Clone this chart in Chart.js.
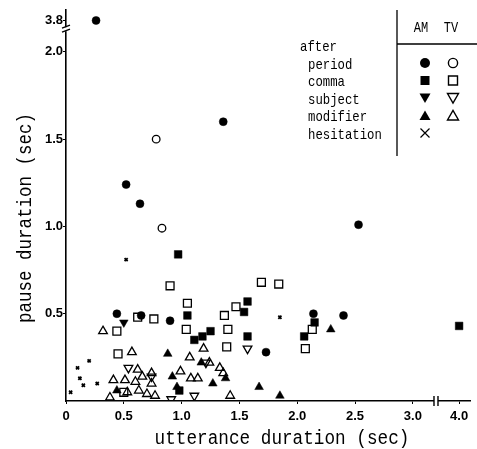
<!DOCTYPE html>
<html>
<head>
<meta charset="utf-8">
<script src="https://cdn.jsdelivr.net/npm/chart.js@4/dist/chart.umd.min.js"></script>
<style>
  html, body { margin: 0; padding: 0; background: #fff; }
  #wrap { position: relative; width: 477px; height: 449px; }
  canvas { display: block; }
</style>
</head>
<body>
<div id="wrap"><canvas id="c" width="477" height="449"></canvas></div>
<script>
// ---- tick labels ----
const xTicks = [0, 0.5, 1.0, 1.5, 2.0, 2.5, 3.0, 4.0];
const xTickLabels = ['0', '0.5', '1.0', '1.5', '2.0', '2.5', '3.0', '4.0'];
const yTicks = [0.5, 1.0, 1.5, 2.0, 3.8];
const yTickLabels = ['0.5', '1.0', '1.5', '2.0', '3.8'];

// ---- series: [utterance duration (sec), pause duration (sec)] ----
const amPeriod = [[0.26,3.8],[1.36,1.60],[0.52,1.24],[0.64,1.13],[2.53,1.01],[0.44,0.50],[0.65,0.49],[0.90,0.46],[1.73,0.28],[2.40,0.49],[2.14,0.50]];
const tvPeriod = [[0.78,1.50],[0.83,0.99]];
const amComma = [[0.97,0.84],[1.05,0.49],[1.25,0.40],[1.18,0.37],[1.11,0.35],[1.57,0.57],[1.54,0.51],[1.57,0.37],[2.06,0.37],[2.15,0.45],[4.0,0.43],[0.98,0.06]];
const tvComma = [[0.90,0.66],[1.05,0.56],[1.47,0.54],[1.69,0.68],[1.84,0.67],[0.62,0.48],[0.76,0.47],[0.44,0.40],[0.45,0.27],[1.04,0.41],[1.37,0.49],[1.40,0.41],[1.39,0.31],[2.13,0.41],[2.07,0.30],[0.50,0.05]];
const amSubject = [[0.50,0.45]];
const tvSubject = [[0.54,0.19],[0.74,0.14],[1.21,0.22],[1.57,0.30],[1.11,0.03],[0.91,0.01]];
const amModifier = [[0.88,0.27],[0.92,0.14],[0.44,0.06],[0.96,0.08],[1.17,0.22],[1.38,0.13],[1.27,0.10],[1.67,0.08],[1.85,0.03],[2.29,0.41]];
const tvModifier = [[0.32,0.40],[0.57,0.28],[1.07,0.25],[1.19,0.30],[0.99,0.17],[1.08,0.13],[1.14,0.13],[1.33,0.19],[1.24,0.22],[1.42,0.03],[0.62,0.18],[0.41,0.12],[0.51,0.12],[0.60,0.11],[0.66,0.14],[0.38,0.02],[0.63,0.06],[0.70,0.04],[0.77,0.03],[0.53,0.05],[0.74,0.16],[0.74,0.10],[1.36,0.16]];
const hesitation = [[0.52,0.81],[0.20,0.23],[0.10,0.19],[0.12,0.13],[0.15,0.09],[0.27,0.10],[0.04,0.05],[1.85,0.48]];

// legend text
const legendHead = ['AM', 'TV'];
const legendTitle = 'after';
const legendRows = ['period', 'comma', 'subject', 'modifier', 'hesitation'];
const xTitle = 'utterance duration (sec)';
const yTitle = 'pause duration (sec)';

// ---- broken-axis transforms ----
function brkX(v) { return v <= 3.0 ? v : 3.4 + (v - 4.0) * 0.4; }
function brkY(v) { return v <= 2.0 ? v : 2.18 + (v - 3.8) * 0.2; }
const pts = arr => arr.map(([x, y]) => ({ x: brkX(x), y: brkY(y) }));

function ds(label, arr, style, filled, radius, rot) {
  return {
    label, data: pts(arr), pointStyle: style, pointRadius: radius, pointHoverRadius: radius,
    pointRotation: rot || 0, borderColor: '#000', borderWidth: filled ? 0.5 : 1.3,
    backgroundColor: filled ? '#000' : 'rgba(0,0,0,0)', showLine: false
  };
}

const datasets = [
  ds('AM period', amPeriod, 'circle', true, 4),
  ds('TV period', tvPeriod, 'circle', false, 3.8),
  ds('AM comma', amComma, 'rect', true, 5.4),
  ds('TV comma', tvComma, 'rect', false, 5.6),
  ds('AM subject', amSubject, 'triangle', true, 5, 180),
  ds('TV subject', tvSubject, 'triangle', false, 5, 180),
  ds('AM modifier', amModifier, 'triangle', true, 5),
  ds('TV modifier', tvModifier, 'triangle', false, 5),
  Object.assign(ds('hesitation', hesitation, 'crossRot', false, 2.2), { borderWidth: 1.8 })
];

function drawSym(ctx, type, filled, x, y) {
  ctx.save();
  ctx.fillStyle = '#000'; ctx.strokeStyle = '#000'; ctx.lineWidth = 1.4;
  ctx.beginPath();
  if (type === 'circle') { ctx.arc(x, y, filled ? 5 : 4.6, 0, Math.PI * 2); }
  else if (type === 'square') { ctx.rect(x - 4.5, y - 4.5, 9, 9); }
  else if (type === 'down') { ctx.moveTo(x - 5.5, y - 4.5); ctx.lineTo(x + 5.5, y - 4.5); ctx.lineTo(x, y + 5); ctx.closePath(); }
  else if (type === 'up') { ctx.moveTo(x - 5.5, y + 4.5); ctx.lineTo(x + 5.5, y + 4.5); ctx.lineTo(x, y - 5); ctx.closePath(); }
  else if (type === 'x') { ctx.lineWidth = 1.2; ctx.moveTo(x - 4.5, y - 4.5); ctx.lineTo(x + 4.5, y + 4.5); ctx.moveTo(x + 4.5, y - 4.5); ctx.lineTo(x - 4.5, y + 4.5); ctx.stroke(); ctx.restore(); return; }
  if (filled) ctx.fill(); else ctx.stroke();
  ctx.restore();
}

function condText(ctx, text, x, y, size, sx, align) {
  ctx.save();
  ctx.font = size + 'px "Liberation Mono", "DejaVu Sans Mono", monospace';
  ctx.textAlign = align || 'left';
  ctx.translate(x, y);
  ctx.scale(sx, 1);
  ctx.fillText(text, 0, 0);
  ctx.restore();
}

const decor = {
  id: 'decor',
  afterDraw(chart) {
    const ctx = chart.ctx;
    const xs = chart.scales.x, ys = chart.scales.y;
    ctx.save();
    ctx.fillStyle = '#000'; ctx.strokeStyle = '#000';
    // axis break on x
    const bx = xs.getPixelForValue(3.2), by0 = ys.bottom;
    ctx.fillStyle = '#fff'; ctx.fillRect(bx - 2, by0 - 2, 4, 4);
    ctx.fillStyle = '#000';
    ctx.lineWidth = 1.4;
    ctx.beginPath();
    ctx.moveTo(bx - 2, by0 - 5); ctx.lineTo(bx - 2, by0 + 5);
    ctx.moveTo(bx + 2, by0 - 5); ctx.lineTo(bx + 2, by0 + 5);
    ctx.stroke();
    // axis break on y
    const byy = ys.getPixelForValue(2.13), ax = xs.left;
    ctx.fillStyle = '#fff'; ctx.fillRect(ax - 2, byy - 2, 4, 4);
    ctx.fillStyle = '#000';
    ctx.beginPath();
    ctx.moveTo(ax - 4, byy - 1); ctx.lineTo(ax + 4, byy - 4);
    ctx.moveTo(ax - 4, byy + 3); ctx.lineTo(ax + 4, byy);
    ctx.stroke();

    // legend box
    ctx.lineWidth = 1.3;
    ctx.beginPath();
    ctx.moveTo(397, 10); ctx.lineTo(397, 156);
    ctx.moveTo(397, 44); ctx.lineTo(477, 44);
    ctx.stroke();
    ctx.textBaseline = 'middle';
    condText(ctx, legendHead[0], 421, 28, 15, 0.8, 'center');
    condText(ctx, legendHead[1], 451, 28, 15, 0.8, 'center');
    condText(ctx, legendTitle, 300, 47, 15, 0.82, 'left');
    const rowY = [64, 81.5, 99, 116.5, 134];
    const symAM = [['circle', true], ['square', true], ['down', true], ['up', true], ['x', false]];
    const symTV = [['circle', false], ['square', false], ['down', false], ['up', false], null];
    legendRows.forEach((t, i) => {
      condText(ctx, t, 308, rowY[i] + 1, 15, 0.82, 'left');
      drawSym(ctx, symAM[i][0], symAM[i][1], 425, rowY[i] - 1);
      if (symTV[i]) drawSym(ctx, symTV[i][0], symTV[i][1], 453, rowY[i] - 1);
    });

    // axis titles
    ctx.textBaseline = 'alphabetic';
    condText(ctx, xTitle, 282, 444, 20, 0.885, 'center');
    ctx.save();
    ctx.translate(31, 218);
    ctx.rotate(-Math.PI / 2);
    condText(ctx, yTitle, 0, 0, 20, 0.875, 'center');
    ctx.restore();
    ctx.restore();
  }
};

const tickFont = { family: '"Liberation Sans", Arial, sans-serif', size: 13, weight: 'bold' };

new Chart(document.getElementById('c'), {
  type: 'scatter',
  data: { datasets },
  options: {
    responsive: false,
    devicePixelRatio: 1,
    animation: false,
    layout: { padding: { top: 10, right: 0, left: 0, bottom: 0 } },
    plugins: { legend: { display: false }, tooltip: { enabled: false } },
    scales: {
      x: {
        type: 'linear', min: 0, max: 3.495,
        afterBuildTicks: s => { s.ticks = xTicks.map(v => ({ value: brkX(v) })); },
        afterFit: s => { s.height = 48; },
        ticks: { autoSkip: false, maxRotation: 0, padding: 5, color: '#000', font: tickFont,
                 callback: (v, i) => xTickLabels[i] },
        grid: { drawOnChartArea: false, drawTicks: true, tickLength: 3, color: '#000', lineWidth: 1 },
        border: { display: true, color: '#000', width: 1.6 }
      },
      y: {
        type: 'linear', min: 0, max: 2.24,
        afterBuildTicks: s => { s.ticks = yTicks.map(v => ({ value: brkY(v) })); },
        afterFit: s => { s.width = 66; },
        ticks: { autoSkip: false, padding: 0, color: '#000', font: tickFont,
                 callback: (v, i) => yTickLabels[i] },
        grid: { drawOnChartArea: false, drawTicks: true, tickLength: 3, color: '#000', lineWidth: 1 },
        border: { display: true, color: '#000', width: 1.6 }
      }
    }
  },
  plugins: [decor]
});
</script>
</body>
</html>
